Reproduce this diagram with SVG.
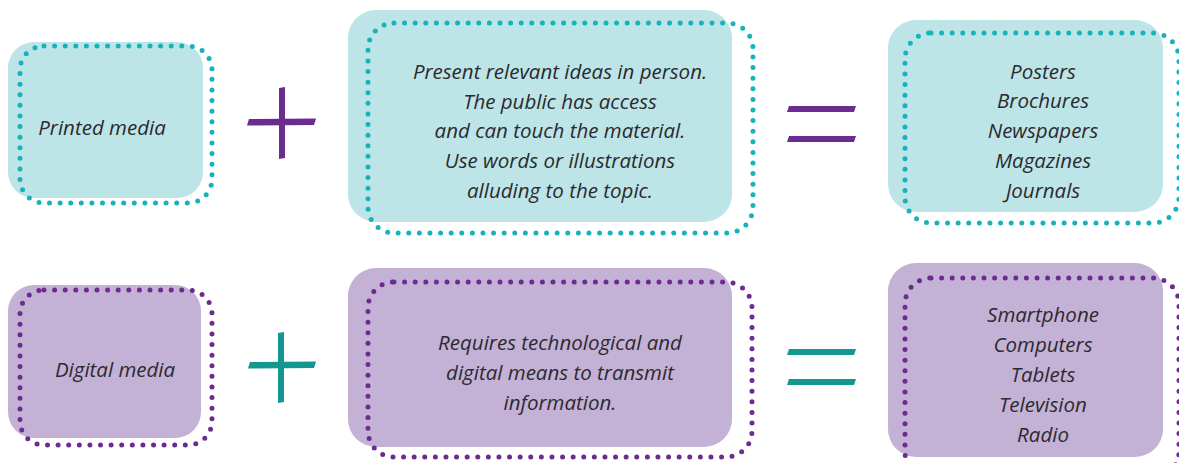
<svg xmlns="http://www.w3.org/2000/svg" width="1179" height="463" viewBox="0 0 1179 463">
<style>
.bg{fill:#fff}
.tf{fill:#bde4e7}
.pf{fill:#c4b1d6}
.td{fill:none;stroke:#17b3bd;stroke-width:5;stroke-linecap:round;stroke-dasharray:0 10.6}
.pd{fill:none;stroke:#6c2b8f;stroke-width:5;stroke-linecap:round;stroke-dasharray:0 10.6}
.t{font-family:"Open Sans","Liberation Sans",sans-serif;font-style:italic;font-size:20.5px;fill:#2b2a2e;text-anchor:middle}
.sp{fill:#6c2b90}
.st{fill:#13978f}
</style>
<rect class="bg" x="0" y="0" width="1179" height="463"/>
<g id="printed-media">
<rect class="tf" x="8" y="42" width="195" height="156" rx="26"/>
<rect class="td" x="20" y="46" width="192" height="157" rx="24"/>
<text class="t" x="102" y="135">Printed media</text>
</g>
<g id="printed-desc">
<rect class="tf" x="348" y="10" width="384" height="212" rx="28"/>
<rect class="td" x="368" y="23" width="385" height="210" rx="26"/>
<text class="t" x="560" y="79">Present relevant ideas in person.</text>
<text class="t" x="560" y="109">The public has access</text>
<text class="t" x="560" y="138">and can touch the material.</text>
<text class="t" x="560" y="168">Use words or illustrations</text>
<text class="t" x="560" y="198">alluding to the topic.</text>
</g>
<g id="printed-examples">
<rect class="tf" x="888" y="20" width="275" height="192" rx="28"/>
<rect class="td" x="905" y="33" width="274" height="190" rx="26"/>
<text class="t" x="1043" y="79">Posters</text>
<text class="t" x="1043" y="108">Brochures</text>
<text class="t" x="1043" y="138">Newspapers</text>
<text class="t" x="1043" y="168">Magazines</text>
<text class="t" x="1043" y="198">Journals</text>
</g>
<g id="digital-media">
<rect class="pf" x="8" y="285" width="193" height="153" rx="26"/>
<rect class="pd" x="20" y="290" width="192" height="155" rx="24"/>
<text class="t" x="115" y="377">Digital media</text>
</g>
<g id="digital-desc">
<rect class="pf" x="348" y="268" width="384" height="179" rx="28"/>
<rect class="pd" x="368" y="282" width="384" height="175" rx="26"/>
<text class="t" x="560" y="350">Requires technological and</text>
<text class="t" x="560" y="380">digital means to transmit</text>
<text class="t" x="560" y="410">information.</text>
</g>
<g id="digital-examples">
<rect class="pf" x="888" y="263" width="275" height="194" rx="28"/>
<rect class="pd" x="905" y="278" width="274" height="200" rx="26"/>
<text class="t" x="1043" y="322">Smartphone</text>
<text class="t" x="1043" y="352">Computers</text>
<text class="t" x="1043" y="382">Tablets</text>
<text class="t" x="1043" y="412">Television</text>
<text class="t" x="1043" y="442">Radio</text>
</g>
<g id="connectors">
<path class="sp" d="M249 119 L316 118.5 L314 125 L247 125.5 Z"/>
<path class="sp" d="M279 88 L285 87 L285 158 L279 159 Z"/>
<path class="sp" d="M789 106 L856 106 L854 112 L787 112 Z"/>
<path class="sp" d="M789 136 L856 136 L854 142 L787 142 Z"/>
<path class="st" d="M250 362 L316 361.5 L314 368 L248 368.5 Z"/>
<path class="st" d="M278 333 L284 332 L284 402 L278 403 Z"/>
<path class="st" d="M789 349 L856 349 L854 355 L787 355 Z"/>
<path class="st" d="M789 379 L856 379 L854 385 L787 385 Z"/>
</g>
</svg>
